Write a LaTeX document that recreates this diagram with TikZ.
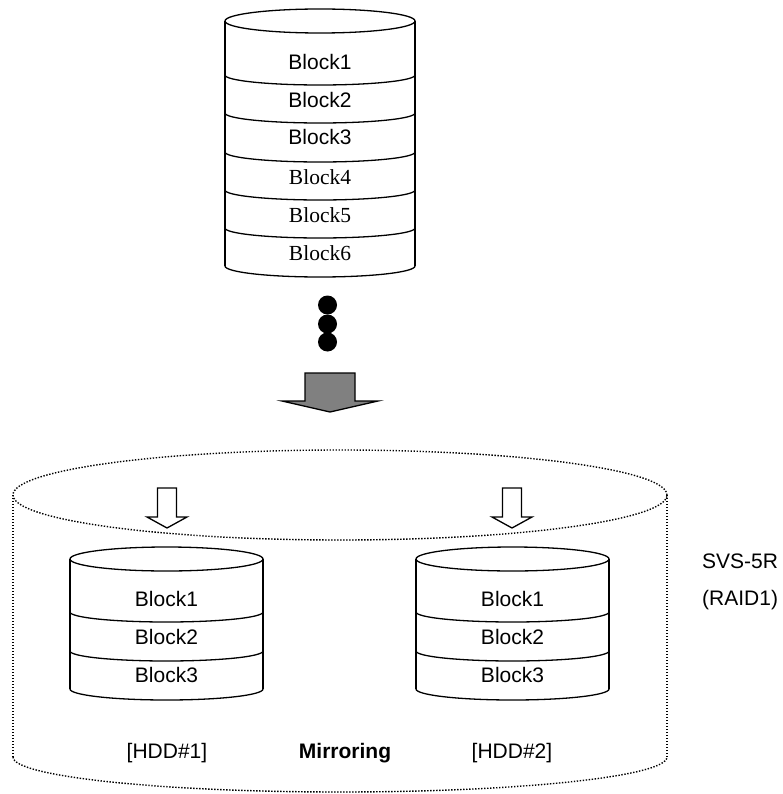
\documentclass[tikz,border=0pt]{standalone}
\usepackage{fontspec}
\setmainfont{Liberation Sans}
\newfontfamily\timesfont{Liberation Serif}
\usetikzlibrary{positioning}

\begin{document}
\begin{tikzpicture}[x=1pt,y=1pt,
    disk/.style={line width=1.3pt},
    outer/.style={line width=1.4pt,dash pattern=on 1.4pt off 1.6pt},
    lbl/.style={font=\fontsize{21}{24}\selectfont,inner sep=0pt}]
    \useasboundingbox (0,0) rectangle (782,-794);

    % source volume
    \draw[disk] (320,-21) ellipse [x radius=95, y radius=12];
    \draw[disk] (225,-21) -- (225,-266);
    \draw[disk] (415,-21) -- (415,-266);
    \draw[disk] (225,-75) arc[start angle=180,end angle=360,x radius=95,y radius=10];
    \draw[disk] (225,-113) arc[start angle=180,end angle=360,x radius=95,y radius=10];
    \draw[disk] (225,-152) arc[start angle=180,end angle=360,x radius=95,y radius=10];
    \draw[disk] (225,-190) arc[start angle=180,end angle=360,x radius=95,y radius=10];
    \draw[disk] (225,-228) arc[start angle=180,end angle=360,x radius=95,y radius=10];
    \draw[disk] (225,-266) arc[start angle=180,end angle=360,x radius=95,y radius=11];
    \node[lbl] (src1) at (320,-62) {Block1};
    \node[lbl] (src2) at (320,-100) {Block2};
    \node[lbl] (src3) at (320,-137) {Block3};
    \node[lbl,font=\fontsize{21.5}{24}\timesfont] (src4) at (320,-177) {Block4};
    \node[lbl,font=\fontsize{21.5}{24}\timesfont] (src5) at (320,-215) {Block5};
    \node[lbl,font=\fontsize{21.5}{24}\timesfont] (src6) at (320,-253) {Block6};

    % more blocks
    \fill (327.5,-305) circle (9.5);
    \fill (327.5,-324) circle (9.5);
    \fill (327.5,-342) circle (9.5);

    % big arrow
    \draw[disk,fill=gray] (305,-373) -- (355,-373) -- (355,-401) -- (378,-401)
        -- (330,-412) -- (282,-401) -- (305,-401) -- cycle;

    % SVS-5R box
    \draw[outer] (340,-495) ellipse [x radius=327, y radius=45];
    \draw[outer] (13,-495) -- (13,-757);
    \draw[outer] (667,-495) -- (667,-757);
    \draw[outer] (13,-757) arc[start angle=180,end angle=360,x radius=327,y radius=35];

    % small arrows
    \draw[disk,fill=white] (157.5,-488) -- (176.5,-488) -- (176.5,-517) -- (187,-517)
        -- (167,-528) -- (147,-517) -- (157.5,-517) -- cycle;
    \draw[disk,fill=white] (502.5,-488) -- (521.5,-488) -- (521.5,-517) -- (532,-517)
        -- (512,-528) -- (492,-517) -- (502.5,-517) -- cycle;

    % HDD#1
    \draw[disk] (166.5,-559) ellipse [x radius=96.5, y radius=12];
    \draw[disk] (70,-559) -- (70,-689);
    \draw[disk] (263,-559) -- (263,-689);
    \draw[disk] (70,-612) arc[start angle=180,end angle=360,x radius=96.5,y radius=10];
    \draw[disk] (70,-651) arc[start angle=180,end angle=360,x radius=96.5,y radius=10];
    \draw[disk] (70,-689) arc[start angle=180,end angle=360,x radius=96.5,y radius=11];
    \node[lbl] (a1) at (166.5,-599) {Block1};
    \node[lbl] (a2) at (166.5,-637) {Block2};
    \node[lbl] (a3) at (166.5,-675) {Block3};

    % HDD#2
    \draw[disk] (512.5,-559) ellipse [x radius=96.5, y radius=12];
    \draw[disk] (416,-559) -- (416,-689);
    \draw[disk] (609,-559) -- (609,-689);
    \draw[disk] (416,-612) arc[start angle=180,end angle=360,x radius=96.5,y radius=10];
    \draw[disk] (416,-651) arc[start angle=180,end angle=360,x radius=96.5,y radius=10];
    \draw[disk] (416,-689) arc[start angle=180,end angle=360,x radius=96.5,y radius=11];
    \node[lbl] (b1) at (512.5,-599) {Block1};
    \node[lbl] (b2) at (512.5,-637) {Block2};
    \node[lbl] (b3) at (512.5,-675) {Block3};

    \node[lbl] (hdd1) at (167,-753) {[HDD\#1]};
    \node[lbl,font=\fontsize{21}{24}\selectfont\bfseries] (mirror) at (345,-753) {Mirroring};
    \node[lbl] (hdd2) at (512,-753) {[HDD\#2]};

    \node[lbl,anchor=west] (svs) at (702,-561) {SVS-5R};
    \node[lbl,anchor=west] (raid) at (702,-600) {(RAID1)};
\end{tikzpicture}
\end{document}
